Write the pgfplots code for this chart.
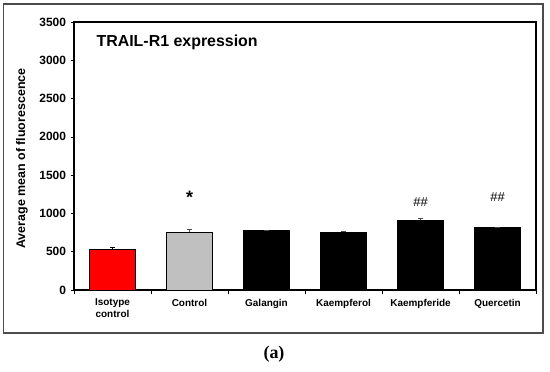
\documentclass[border=0pt]{standalone}
\usepackage{pgfplots}
\pgfplotsset{compat=1.18}
\usepackage{fontspec}
\setmainfont{Liberation Sans}
\newfontfamily\serifb{Liberation Serif}
\begin{document}
\begin{tikzpicture}[x=1bp,y=1bp]
\path[use as bounding box] (0,0) rectangle (550,371);
\draw[line width=1.6bp, black!70] (3.5,38) rectangle (543,367);
\begin{axis}[
  at={(74bp,81bp)}, anchor=south west,
  scale only axis, width=462bp, height=268bp,
  xmin=-0.5, xmax=5.5, ymin=0, ymax=3500,
  ytick={0,500,...,3500},
  xtick={-0.5,0.5,...,5.5},
  x tick label as interval,
  xticklabels={{Isotype\\control},Control,Galangin,Kaempferol,Kaempferide,Quercetin},
  tick pos=left, tick align=outside, major tick length=3.5bp,
  axis line style={line width=1.1bp},
  tick style={black, line width=0.5bp},
  /pgf/number format/assume math mode=true,
  /pgf/number format/1000 sep={},
  yticklabel style={font=\fontsize{12}{14}\selectfont\bfseries, xshift=-1bp},
  xticklabel style={font=\fontsize{10}{12}\selectfont\bfseries, align=center, yshift=-2bp},
]
\addplot[ybar, bar shift=0pt, bar width=0.59, fill=red, draw=black, line width=0.8bp,
  error bars/.cd, y dir=plus, y explicit,
  error bar style={black, line width=0.6bp},
  error mark options={rotate=90, mark size=2.5bp, black}]
  coordinates {(0,526) +- (0,27)};
\addplot[ybar, bar shift=0pt, bar width=0.59, fill={rgb,255:red,192;green,192;blue,192}, draw=black, line width=0.8bp,
  error bars/.cd, y dir=plus, y explicit,
  error bar style={black!70, line width=0.6bp},
  error mark options={rotate=90, mark size=2.5bp, black!70}]
  coordinates {(1,753) +- (0,45)};
\addplot[ybar, bar shift=0pt, bar width=0.59, fill=black, draw=black, line width=0.8bp,
  error bars/.cd, y dir=plus, y explicit,
  error bar style={black!70, line width=0.6bp},
  error mark options={rotate=90, mark size=2.5bp, black!70}]
  coordinates {(2,775) +- (0,10) (3,752) +- (0,22) (4,910) +- (0,26) (5,814) +- (0,10)};
\node[font=\fontsize{18}{20}\selectfont\bfseries] at (axis cs:1,1215) {*};
\node[font=\fontsize{13}{15}\selectfont] at (axis cs:4,1153) {\#\#};
\node[font=\fontsize{13}{15}\selectfont] at (axis cs:5,1218) {\#\#};
\end{axis}
\node[rotate=90, font=\fontsize{12.5}{14}\selectfont\bfseries] at (22,212.5) {Average mean of fluorescence};
\node[anchor=base west, font=\fontsize{16}{18}\selectfont\bfseries] at (93,325) {TRAIL-R1 expression};
\node[font=\serifb\fontsize{18}{20}\selectfont\bfseries] at (274,17) {(a)};
\end{tikzpicture}
\end{document}
